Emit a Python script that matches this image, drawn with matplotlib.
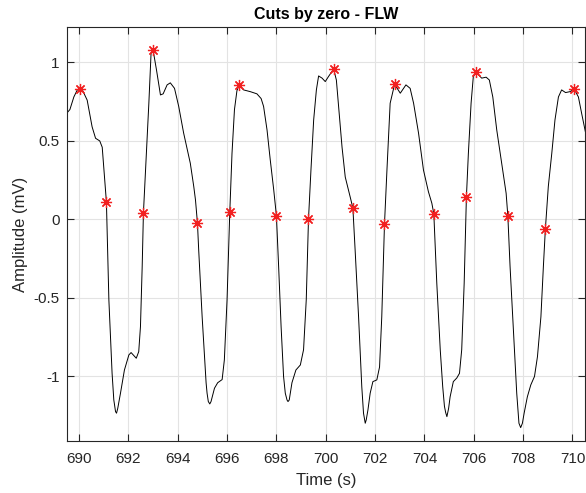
import numpy as np
import matplotlib
matplotlib.use('agg')
import matplotlib.pyplot as plt

plt.rcParams['font.family'] = ['Liberation Sans', 'DejaVu Sans']

# FLW signal
t = [689.50, 689.63, 689.79, 689.93, 690.02, 690.15, 690.33, 690.53, 690.67, 690.84,
     690.94, 691.00, 691.11, 691.21, 691.34, 691.41, 691.48, 691.52, 691.57, 691.68,
     691.84, 692.02, 692.11, 692.32, 692.42, 692.49, 692.56, 692.61, 692.73, 692.83,
     692.92, 693.00, 693.14, 693.30, 693.41, 693.57, 693.70, 693.87, 694.04, 694.24,
     694.51, 694.65, 694.72, 694.80, 694.85, 694.99, 695.15, 695.19, 695.24, 695.30,
     695.35, 695.49, 695.62, 695.80, 695.89, 696.00, 696.11, 696.20, 696.30, 696.40,
     696.49, 696.67, 696.94, 697.21, 697.38, 697.48, 697.62, 697.75, 697.89, 698.00,
     698.09, 698.19, 698.29, 698.36, 698.43, 698.47, 698.52, 698.63, 698.79, 698.97,
     699.10, 699.21, 699.30, 699.40, 699.51, 699.62, 699.71, 699.85, 699.98, 700.11,
     700.32, 700.43, 700.52, 700.66, 700.79, 700.92, 701.02, 701.10, 701.19, 701.33,
     701.46, 701.53, 701.60, 701.64, 701.71, 701.80, 701.91, 702.07, 702.18, 702.27,
     702.38, 702.48, 702.61, 702.79, 703.02, 703.25, 703.42, 703.56, 703.76, 703.96,
     704.16, 704.30, 704.38, 704.50, 704.64, 704.74, 704.81, 704.86, 704.91, 704.98,
     705.04, 705.17, 705.31, 705.42, 705.51, 705.61, 705.70, 705.78, 705.89, 705.98,
     706.09, 706.32, 706.50, 706.63, 706.77, 706.93, 707.13, 707.31, 707.38, 707.47,
     707.61, 707.74, 707.83, 707.90, 707.97, 708.04, 708.17, 708.31, 708.46, 708.58,
     708.72, 708.82, 708.90, 709.02, 709.16, 709.29, 709.43, 709.56, 709.72, 709.90,
     710.07, 710.24, 710.37, 710.52]
amp = [0.676, 0.70, 0.78, 0.825, 0.835, 0.82, 0.76, 0.59, 0.517, 0.50,
       0.46, 0.336, 0.111, -0.513, -0.98, -1.15, -1.224, -1.234, -1.203, -1.107,
       -0.959, -0.863, -0.848, -0.884, -0.842, -0.683, -0.30, 0.04, 0.42, 0.74,
       1.06, 1.08, 0.952, 0.793, 0.80, 0.857, 0.87, 0.835, 0.72, 0.55,
       0.358, 0.21, 0.124, -0.024, -0.194, -0.62, -1.04, -1.107, -1.16, -1.175,
       -1.16, -1.075, -1.04, -1.02, -0.895, -0.51, 0.046, 0.42, 0.70, 0.82,
       0.857, 0.825, 0.814, 0.80, 0.77, 0.72, 0.57, 0.38, 0.19, 0.024,
       -0.30, -0.683, -1.0, -1.107, -1.15, -1.16, -1.15, -1.04, -0.959, -0.927,
       -0.83, -0.51, 0.0, 0.315, 0.634, 0.825, 0.914, 0.90, 0.878, 0.91,
       0.958, 0.888, 0.72, 0.46, 0.27, 0.188, 0.124, 0.071, -0.194, -0.62,
       -1.065, -1.234, -1.298, -1.277, -1.213, -1.107, -1.033, -1.022, -0.94, -0.62,
       -0.031, 0.315, 0.74, 0.861, 0.804, 0.857, 0.835, 0.74, 0.55, 0.315,
       0.177, 0.103, 0.035, -0.406, -0.83, -1.065, -1.19, -1.23, -1.256, -1.203,
       -1.13, -1.033, -1.01, -0.98, -0.83, -0.406, 0.141, 0.42, 0.74, 0.91,
       0.937, 0.90, 0.906, 0.888, 0.78, 0.57, 0.358, 0.167, 0.022, -0.30,
       -0.725, -1.107, -1.298, -1.326, -1.298, -1.234, -1.13, -1.054, -1.0, -0.874,
       -0.62, -0.30, -0.063, 0.21, 0.42, 0.634, 0.78, 0.825, 0.808, 0.814,
       0.83, 0.78, 0.676, 0.56]

# detected cut points
cut_t = [690.02, 691.11, 692.61, 693.00, 694.80, 696.11, 696.49, 698.00, 699.30, 700.32,
         701.10, 702.38, 702.79, 704.38, 705.70, 706.09, 707.38, 708.90, 710.07]
cut_amp = [0.83, 0.111, 0.04, 1.08, -0.024, 0.046, 0.857, 0.024, 0.0, 0.958,
           0.071, -0.031, 0.861, 0.035, 0.141, 0.937, 0.022, -0.063, 0.83]

xticks = np.arange(690, 711, 2)
yticks = [-1, -0.5, 0, 0.5, 1]
ytick_labels = ['-1', '-0.5', '0', '0.5', '1']

fig = plt.figure(figsize=(5.86, 4.93), dpi=100)
ax = fig.add_axes([0.1138, 0.1049, 0.8842, 0.8398])

ax.plot(t, amp, color='black', lw=0.7)
ax.plot(cut_t, cut_amp, ls='none', marker=(8, 2, 0), color='#f22020',
        markersize=8, mew=0.9)

ax.set_xlim(689.5, 710.5)
ax.set_ylim(-1.413, 1.224)
ax.set_xticks(xticks)
ax.set_yticks(yticks)
ax.set_yticklabels(ytick_labels)
ax.grid(True, color='#e3e3e3', lw=0.8)
ax.set_axisbelow(True)
ax.tick_params(direction='in', top=True, right=True, labelsize=11,
               length=5, width=0.8, colors='#262626')
ax.tick_params(axis='x', pad=8)
ax.tick_params(axis='y', pad=5)
for s in ax.spines.values():
    s.set_color('#262626')
    s.set_linewidth(0.8)

ax.set_xlabel('Time (s)', fontsize=12, color='#262626', labelpad=5)
ax.set_ylabel('Amplitude (mV)', fontsize=12, color='#262626', labelpad=4)
ax.set_title('Cuts by zero - FLW', fontsize=11.5, fontweight='bold', pad=6)

fig.savefig('out.png', dpi=100)
